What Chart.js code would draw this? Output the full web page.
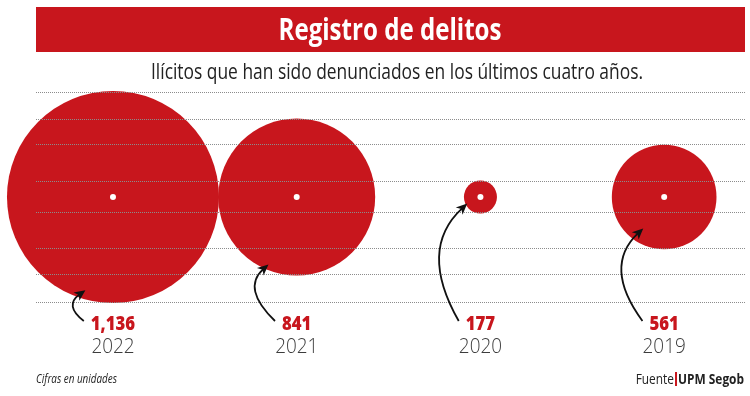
<!DOCTYPE html>
<html>
<head>
<meta charset="utf-8">
<script src="https://cdn.jsdelivr.net/npm/chart.js@4.4.1/dist/chart.umd.min.js"></script>
<style>
  html, body { margin: 0; padding: 0; background: #fff; }
  #wrap { width: 750px; height: 396px; }
</style>
</head>
<body>
<div id="wrap"><canvas id="chart" width="750" height="396"></canvas></div>
<script>
const years = ["2022", "2021", "2020", "2019"];
const totals = [1136, 841, 177, 561];
const gridLevels = [0, 12.9, 25.7, 42.4, 57.6, 74.8, 87.1, 100];

const RED = "#c8161d";
const FONT = "'Open Sans', 'Liberation Sans', sans-serif";
const pxPerUnit = 106 / 1136; // bubble radius is linear in the value

// where each arrow meets its circle (in radius units) and how far it bows out
const arrowStyle = [
    { tx: -0.26, ty: 0.88, bulge: 20, lift: 0 },
    { tx: -0.36, ty: 0.86, bulge: 27, lift: -4 },
    { tx: -0.80, ty: 0.40, bulge: 41, lift: -13 },
    { tx: -0.40, ty: 0.60, bulge: 40, lift: -8 }
];

const bubbles = totals.map((v, i) => ({ x: i, y: 50, r: v * pxPerUnit }));
const centers = totals.map((v, i) => ({ x: i, y: 50, r: 3 }));

// big bubbles would otherwise push the chart area inwards
Chart.BubbleController.prototype.getMaxOverflow = () => 0;

// draws text squeezed horizontally (condensed look), anchored by align
function squeezeText(ctx, text, x, y, sx, align) {
    const w = ctx.measureText(text).width * sx;
    let left = x;
    if (align === "center") left = x - w / 2;
    if (align === "right") left = x - w;
    ctx.save();
    ctx.textAlign = "left";
    ctx.translate(left, y);
    ctx.scale(sx, 1);
    ctx.fillText(text, 0, 0);
    ctx.restore();
    return w;
}

function fitScale(ctx, text, width) {
    return width / ctx.measureText(text).width;
}

function drawArrow(ctx, sx, sy, tx, ty, bulge, lift) {
    const cx = Math.min(sx, tx) - bulge;
    const cy = (sy + ty) / 2 + lift;
    let dx = tx - cx, dy = ty - cy;
    const len = Math.hypot(dx, dy);
    dx /= len; dy /= len;
    const ex = tx - dx * 7, ey = ty - dy * 7;
    ctx.save();
    ctx.strokeStyle = "#111";
    ctx.fillStyle = "#111";
    ctx.lineWidth = 1.8;
    ctx.beginPath();
    ctx.moveTo(sx, sy);
    ctx.quadraticCurveTo(cx, cy, ex, ey);
    ctx.stroke();
    ctx.beginPath();
    ctx.moveTo(tx, ty);
    ctx.lineTo(tx - dx * 11 - dy * 5, ty - dy * 11 + dx * 5);
    ctx.lineTo(tx - dx * 8, ty - dy * 8);
    ctx.lineTo(tx - dx * 11 + dy * 5, ty - dy * 11 - dx * 5);
    ctx.closePath();
    ctx.fill();
    ctx.restore();
}

const decor = {
    id: "decor",
    beforeDraw(chart) {
        const ctx = chart.ctx;
        ctx.save();
        ctx.fillStyle = "#fff";
        ctx.fillRect(0, 0, chart.width, chart.height);
        ctx.fillStyle = RED;
        ctx.fillRect(36, 7, 709, 45);
        ctx.textBaseline = "alphabetic";

        const title = "Registro de delitos";
        ctx.fillStyle = "#fff";
        ctx.font = "bold 30px " + FONT;
        squeezeText(ctx, title, 390, 40, fitScale(ctx, title, 223), "center");

        const sub = "Ilícitos que han sido denunciados en los últimos cuatro años.";
        ctx.fillStyle = "#222";
        ctx.font = "21px " + FONT;
        squeezeText(ctx, sub, 397, 79, fitScale(ctx, sub, 492), "center");
        ctx.restore();
    },
    afterDraw(chart) {
        const ctx = chart.ctx;
        const meta = chart.getDatasetMeta(1);
        ctx.save();
        ctx.textBaseline = "alphabetic";
        meta.data.forEach((el, i) => {
            const label = totals[i].toLocaleString("en-US");
            ctx.font = "800 19px " + FONT;
            ctx.fillStyle = RED;
            const w = squeezeText(ctx, label, el.x, 330, 0.88, "center");

            ctx.font = "300 21px " + FONT;
            ctx.fillStyle = "#3c3c3c";
            squeezeText(ctx, years[i], el.x, 353, 0.9, "center");

            const r = bubbles[i].r;
            const s = arrowStyle[i];
            drawArrow(ctx, el.x - w / 2 - 7, 321, el.x + s.tx * r, el.y + s.ty * r, s.bulge, s.lift);
        });

        ctx.fillStyle = "#222";
        ctx.font = "italic 12px " + FONT;
        const note = "Cifras en unidades";
        squeezeText(ctx, note, 36, 383, fitScale(ctx, note, 81), "left");

        ctx.font = "bold 14px " + FONT;
        const wb = squeezeText(ctx, "UPM Segob", 744, 384, 0.85, "right");
        ctx.fillStyle = RED;
        ctx.fillRect(744 - wb - 3, 372, 2, 14);
        ctx.fillStyle = "#222";
        ctx.font = "14px " + FONT;
        squeezeText(ctx, "Fuente", 744 - wb - 4, 384, 0.85, "right");
        ctx.restore();
    }
};

new Chart(document.getElementById("chart"), {
    type: "bubble",
    data: {
        datasets: [
            {
                data: centers,
                backgroundColor: "#fff",
                borderWidth: 0,
                order: 0,
                clip: false
            },
            {
                data: bubbles,
                backgroundColor: RED,
                borderWidth: 0,
                order: 1,
                clip: false
            }
        ]
    },
    options: {
        responsive: false,
        animation: false,
        events: [],
        layout: { padding: { left: 36, right: 5, top: 92, bottom: 94 } },
        plugins: {
            legend: { display: false },
            tooltip: { enabled: false }
        },
        scales: {
            x: {
                type: "linear",
                display: false,
                min: -0.419,
                max: 3.44
            },
            y: {
                type: "linear",
                min: 0,
                max: 100,
                z: 1,
                afterBuildTicks: scale => {
                    scale.ticks = gridLevels.map(v => ({ value: v }));
                },
                afterFit: scale => { scale.width = 0; },
                ticks: { display: false },
                // in v4 the dash of the grid lines lives under border
                border: { display: false, dash: [1, 1] },
                grid: {
                    z: 1,
                    drawTicks: false,
                    color: "#8c8c8c",
                    lineWidth: 1
                }
            }
        }
    },
    plugins: [decor]
});
</script>
</body>
</html>
